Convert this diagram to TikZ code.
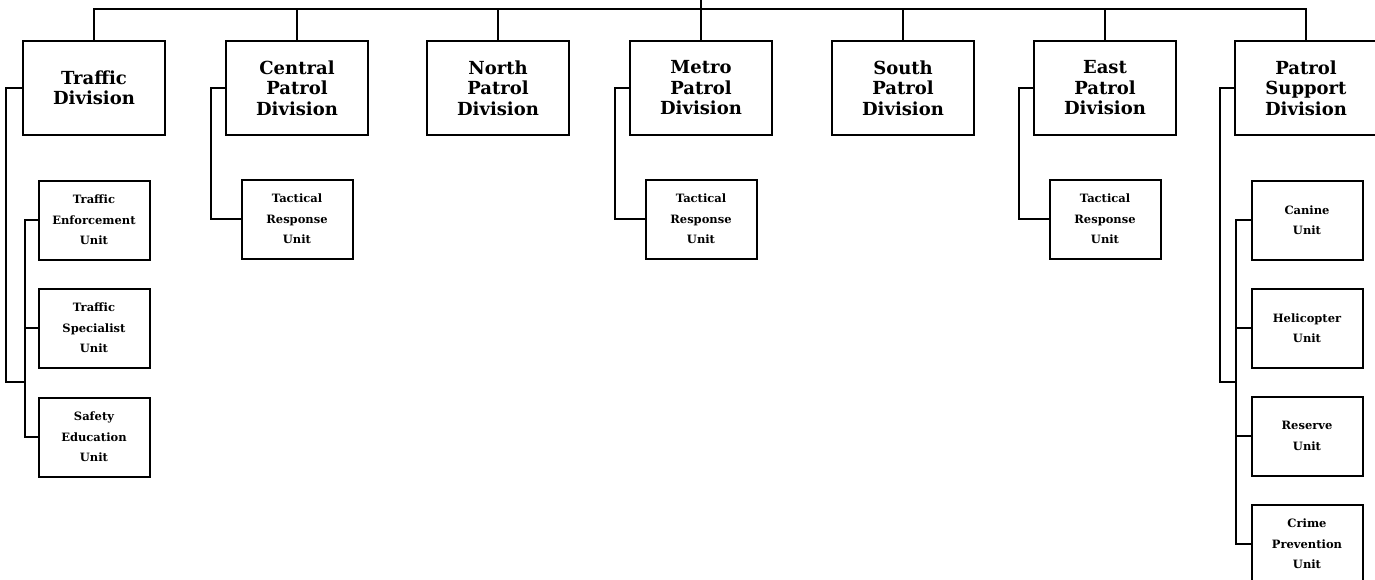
\documentclass[tikz,border=0pt]{standalone}
\usepackage{fontspec}
\setmainfont{DejaVu Serif}
\usetikzlibrary{calc}

\begin{document}
\begin{tikzpicture}[x=1pt,y=-1pt,line width=2pt,
                    division/.style={rectangle,draw,fill=white,minimum width=142pt,minimum height=94pt,
                                     inner sep=0pt,align=center,font=\bfseries\fontsize{18}{20.5}\selectfont},
                    unit/.style={rectangle,draw,fill=white,minimum width=111pt,minimum height=79pt,
                                 inner sep=0pt,align=center,font=\bfseries\fontsize{11.5}{20.5}\selectfont}]

  \useasboundingbox (0,0) rectangle (1375,579);

  \node[division] (traffic) at (94,88) {Traffic\\Division};
  \node[division] (central) at (297,88) {Central\\Patrol\\Division};
  \node[division] (north) at (498,88) {North\\Patrol\\Division};
  \node[division] (metro) at (701,88) {Metro\\Patrol\\Division};
  \node[division] (south) at (903,88) {South\\Patrol\\Division};
  \node[division] (east) at (1105,88) {East\\Patrol\\Division};
  \node[division] (support) at (1306,88) {Patrol\\Support\\Division};

  \node[unit] (enforce) at (94,220) {Traffic\\Enforcement\\Unit};
  \node[unit] (special) at (94,328) {Traffic\\Specialist\\Unit};
  \node[unit] (safety) at (94,437) {Safety\\Education\\Unit};

  \node[unit] (ctactic) at (297,219) {Tactical\\Response\\Unit};
  \node[unit] (mtactic) at (701,219) {Tactical\\Response\\Unit};
  \node[unit] (etactic) at (1105,219) {Tactical\\Response\\Unit};

  \node[unit] (canine) at (1307,220) {Canine\\Unit};
  \node[unit] (heli) at (1307,328) {Helicopter\\Unit};
  \node[unit] (reserve) at (1307,436) {Reserve\\Unit};
  \node[unit] (crime) at (1307,544) {Crime\\Prevention\\Unit};

  \coordinate (chief) at (701,0);
  \coordinate (tjoin) at (25,382);
  \coordinate (sjoin) at (1236,382);

  \draw (metro.north) -- (chief);
  \draw (traffic.north) -- ++(0,-31) -| (support.north);
  \foreach \d in {central,north,south,east}
    \draw (\d.north) -- ++(0,-31);

  \draw (traffic.west) -- ++(-16,0) |- (tjoin);
  \draw (enforce.west) -- ++(-13,0) |- (safety.west);
  \draw (special.west) -- ++(-13,0);

  \draw (central.west) -- ++(-14,0) |- (ctactic.west);
  \draw (metro.west) -- ++(-14,0) |- (mtactic.west);
  \draw (east.west) -- ++(-14,0) |- (etactic.west);

  \draw (support.west) -- ++(-14,0) |- (sjoin);
  \draw (canine.west) -- ++(-15,0) |- (crime.west);
  \draw (heli.west) -- ++(-15,0);
  \draw (reserve.west) -- ++(-15,0);

\end{tikzpicture}
\end{document}
